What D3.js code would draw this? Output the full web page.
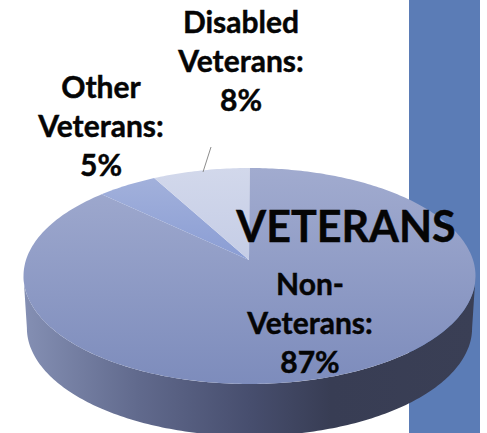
<!DOCTYPE html>
<html>
<head>
<meta charset="utf-8">
<script src="https://cdn.jsdelivr.net/npm/d3@7/dist/d3.min.js"></script>
<style>
html,body{margin:0;padding:0;background:#fff;overflow:hidden}
svg{display:block}
text{font-family:Lato,"Open Sans",sans-serif;font-weight:700;fill:#050505;stroke:#050505;stroke-width:.45;text-anchor:middle}
</style>
</head>
<body>
<svg id="chart" width="487" height="433"></svg>
<script>
// Share of each group, clockwise from twelve o'clock
const categories = ["Non-Veterans", "Other Veterans", "Disabled Veterans"];
const shares = [87, 5, 8];
const labelLines = [["Non-", "Veterans:", "87%"], ["Other", "Veterans:", "5%"], ["Disabled", "Veterans:", "8%"]];
const labelAnchors = [[310, 295], [101, 98], [241, 33]];
const title = "VETERANS";

const svg = d3.select("#chart");
const W = 487, H = 433;
const cx = 249.5, apexY = 260, topY = 168, bottomY = 384, halfWidth = 223.5;

// Perspective tilt: the vertical projection sends the disc's top,
// centre and bottom to topY, apexY and bottomY.
const c = (topY + bottomY - 2 * apexY) / (bottomY - topY);
const a = topY * (1 + c) - apexY;
const project = (angle, scaleX = 1, dy = 0) => {
  const u = Math.sin(angle), v = Math.cos(angle);
  const d = 1 + c * v;
  return [cx + halfWidth * scaleX * u / d, (a * v + apexY) / d + dy];
};

const defs = svg.append("defs");
function linear(id, x1, y1, x2, y2, stops) {
  const g = defs.append("linearGradient").attr("id", id).attr("gradientUnits", "userSpaceOnUse")
    .attr("x1", x1).attr("y1", y1).attr("x2", x2).attr("y2", y2);
  stops.forEach(([o, col]) => g.append("stop").attr("offset", o).attr("stop-color", col));
}
linear("face0", 0, topY, 0, bottomY, [[0, "#a1abcf"], [1, "#7d8cbc"]]);
linear("face1", 0, topY, 0, apexY, [[0, "#a5b3dc"], [1, "#8a9dd4"]]);
linear("face2", 0, topY, 0, apexY, [[0, "#d2d8eb"], [1, "#c5cde6"]]);
linear("wall", 25, 0, 475, 0, [[0, "#848fb3"], [0.25, "#616a8d"], [0.5, "#474e6e"], [0.68, "#383d54"], [1, "#3a3f55"]]);

// Panel behind the right side of the pie
svg.append("rect").attr("x", 409).attr("y", 0).attr("width", 71).attr("height", H).attr("fill", "#5b7cb6");

const line = d3.line().curve(d3.curveLinear);
const steps = d3.range(0, 181);

// Outer wall of the disc: front half of the top rim, then the lower rim back.
// Both rims run between their widest points so the silhouette stays unbroken.
const rimStart = Math.acos(-c), rimEnd = 2 * Math.PI - rimStart;
const front = steps.map(i => project(rimStart + (rimEnd - rimStart) * i / 180));
const lower = steps.map(i => project(rimEnd - (rimEnd - rimStart) * i / 180, 0.985, 52));
svg.append("path").attr("d", line(front.concat(lower)) + "Z").attr("fill", "url(#wall)");

// Top face
const arcs = d3.pie().sort(null)(shares);
svg.selectAll("path.slice").data(arcs).join("path").attr("class", "slice")
  .attr("fill", (d, i) => `url(#face${i})`)
  .attr("d", d => {
    const n = Math.max(8, Math.round((d.endAngle - d.startAngle) * 60));
    const rim = d3.range(n + 1).map(i => project(d.startAngle + (d.endAngle - d.startAngle) * i / n));
    return line([[cx - 0.5, apexY]].concat(rim)) + "Z";
  });

// Leader from the disabled-veterans slice to its label
svg.append("line").attr("x1", 203).attr("y1", 172).attr("x2", 211).attr("y2", 147)
  .attr("stroke", "#8c8c8c").attr("stroke-width", 1);

// Slice labels, one centred block per category
const lineSteps = [0, 39, 78];
categories.forEach((name, i) => {
  const t = svg.append("text").attr("font-size", 30);
  labelLines[i].forEach((s, j) => t.append("tspan")
    .attr("x", labelAnchors[i][0]).attr("y", labelAnchors[i][1] + lineSteps[j]).text(s));
});

svg.append("text").attr("x", 346).attr("y", 242).attr("font-size", 43).text(title);
</script>
</body>
</html>
